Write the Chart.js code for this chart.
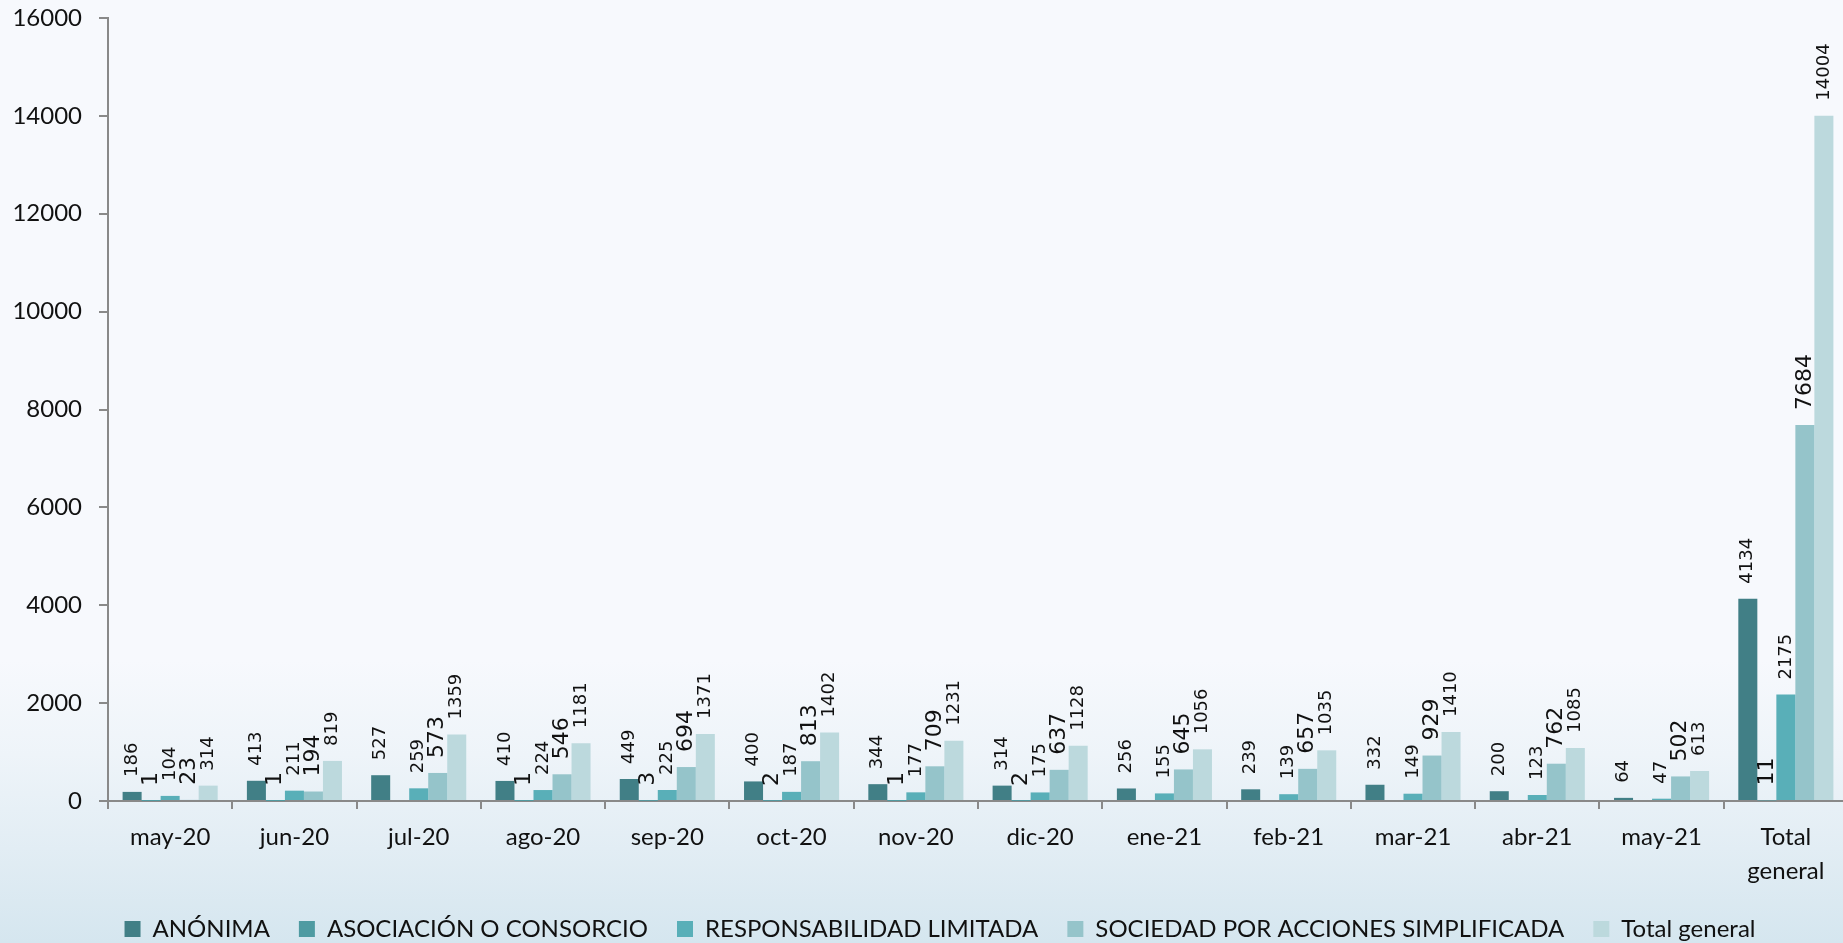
<!DOCTYPE html>
<html lang="es">
<head>
<meta charset="utf-8">
<title>Sociedades por tipo</title>
<script src="https://cdn.jsdelivr.net/npm/chart.js"></script>
<style>
  html, body {
    margin: 0;
    padding: 0;
    width: 1843px;
    height: 943px;
    overflow: hidden;
  }
  body {
    background: linear-gradient(to bottom, #f7f9fd 0%, #f7f9fd 70%, #eef4f9 80%, #e2edf4 90%, #d5e6ef 100%);
  }
  canvas {
    position: absolute;
    left: 0;
    top: 0;
  }
</style>
</head>
<body>
<canvas id="chart" width="1848" height="963"></canvas>
<script>
/* Sociedades constituidas por tipo, may-20 a may-21 */

const categories = [
  "may-20", "jun-20", "jul-20", "ago-20", "sep-20", "oct-20", "nov-20",
  "dic-20", "ene-21", "feb-21", "mar-21", "abr-21", "may-21", ["Total", "general"]
];

const anonima = [186, 413, 527, 410, 449, 400, 344, 314, 256, 239, 332, 200, 64, 4134];
const asociacion = [1, 1, null, 1, 3, 2, 1, 2, null, null, null, null, null, 11];
const responsabilidad = [104, 211, 259, 224, 225, 187, 177, 175, 155, 139, 149, 123, 47, 2175];
const sociedadSAS = [23, 194, 573, 546, 694, 813, 709, 637, 645, 657, 929, 762, 502, 7684];
const totalGeneral = [314, 819, 1359, 1181, 1371, 1402, 1231, 1128, 1056, 1035, 1410, 1085, 613, 14004];

const seriesNames = [
  "ANÓNIMA",
  "ASOCIACIÓN O CONSORCIO",
  "RESPONSABILIDAD LIMITADA",
  "SOCIEDAD POR ACCIONES SIMPLIFICADA",
  "Total general"
];

const yTicks = [0, 2000, 4000, 6000, 8000, 10000, 12000, 14000, 16000];

(function () {
  const colors = ["#417f86", "#4f9ba2", "#59afb8", "#95c4ca", "#bcd9dd"];
  const labelSizes = [18, 22, 18, 22, 18];
  const axisColor = "#898989";

  // rotated value labels above each bar
  const valueLabels = {
    id: "valueLabels",
    afterDatasetsDraw(chart) {
      const ctx = chart.ctx;

      chart.data.datasets.forEach(function (ds, i) {
        const meta = chart.getDatasetMeta(i);

        meta.data.forEach(function (bar, j) {
          const v = ds.data[j];
          if (v === null || v === undefined) return;

          ctx.save();
          ctx.translate(bar.x, bar.y - 15);
          ctx.rotate(-Math.PI / 2);
          ctx.font = labelSizes[i] + 'px "DejaVu Sans"';
          ctx.fillStyle = "#111";
          ctx.textAlign = "left";
          ctx.textBaseline = "middle";
          ctx.fillText(String(v), 0, 0);
          ctx.restore();
        });
      });
    }
  };

  // nudge the legend to where the original sits
  const legendShift = {
    id: "legendShift",
    afterLayout(chart) {
      const lg = chart.legend;
      if (!lg) return;
      lg.left += 16;
      lg.right += 16;
      lg.top -= 12;
      lg.bottom -= 12;
    }
  };

  const series = [anonima, asociacion, responsabilidad, sociedadSAS, totalGeneral];

  new Chart(document.getElementById("chart"), {
    type: "bar",
    data: {
      labels: categories,
      datasets: series.map(function (data, i) {
        return {
          label: seriesNames[i],
          data: data,
          backgroundColor: colors[i],
          borderWidth: 0,
          categoryPercentage: 0.765,
          barPercentage: 1.0
        };
      })
    },
    options: {
      responsive: false,
      animation: false,
      layout: {
        padding: { top: 18, left: 0, right: 0, bottom: 0 }
      },
      plugins: {
        tooltip: { enabled: false },
        legend: {
          position: "bottom",
          labels: {
            color: "#111",
            font: { family: "Lato", size: 24 },
            boxWidth: 16,
            boxHeight: 16,
            padding: 29
          }
        }
      },
      scales: {
        x: {
          afterFit: function (scale) {
            scale.height = 99;
          },
          grid: {
            offset: true,
            drawOnChartArea: false,
            color: axisColor,
            lineWidth: 2,
            tickLength: 8
          },
          border: { color: axisColor, width: 2 },
          ticks: {
            color: "#111",
            padding: 12,
            maxRotation: 0,
            font: { family: "Lato", size: 24, lineHeight: 1.39 }
          }
        },
        y: {
          min: 0,
          max: 16000,
          afterFit: function (scale) {
            scale.width = 108;
            scale.paddingTop = 0;
            scale.paddingBottom = 0;
          },
          afterBuildTicks: function (scale) {
            scale.ticks = yTicks.map(function (v) { return { value: v }; });
          },
          grid: {
            drawOnChartArea: false,
            color: axisColor,
            lineWidth: 2,
            tickLength: 9
          },
          border: { color: axisColor, width: 2 },
          ticks: {
            color: "#111",
            padding: 17,
            font: { family: "Lato", size: 24 },
            callback: function (v) { return String(v); }
          }
        }
      }
    },
    plugins: [valueLabels, legendShift]
  });
})();
</script>
</body>
</html>
